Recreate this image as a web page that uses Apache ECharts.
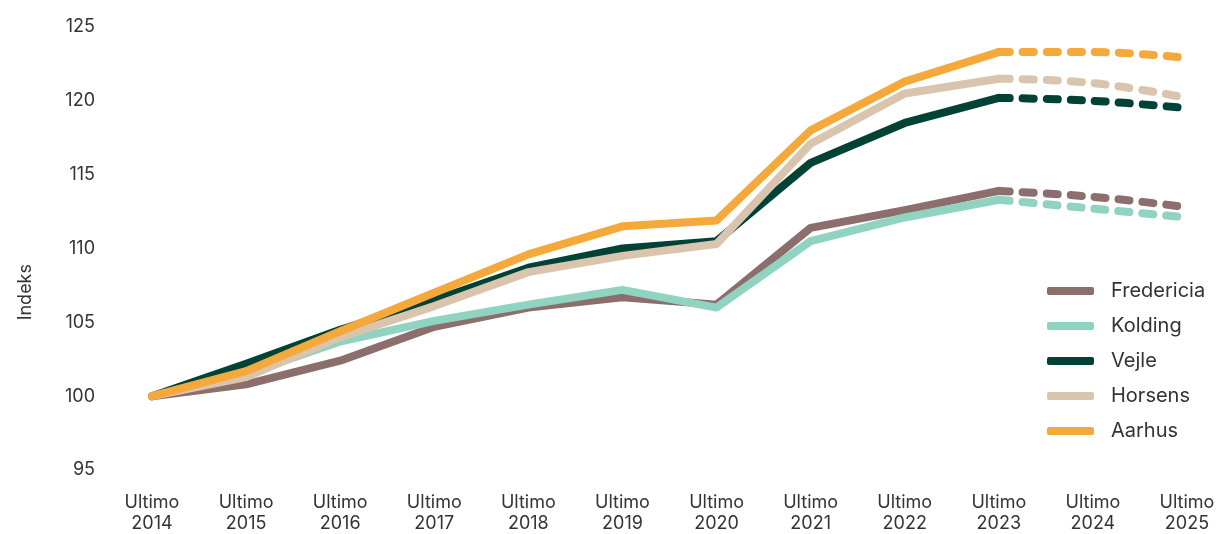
<!DOCTYPE html>
<html><head><meta charset="utf-8">
<script src="https://cdn.jsdelivr.net/npm/echarts@6/dist/echarts.min.js"></script>
<style>html,body{margin:0;padding:0;background:#fff}#c{width:1228px;height:534px}</style>
</head><body><div id="c"></div>
<script>
const categories = ['Ultimo\n2014','Ultimo\n2015','Ultimo\n2016','Ultimo\n2017','Ultimo\n2018','Ultimo\n2019','Ultimo\n2020','Ultimo\n2021','Ultimo\n2022','Ultimo\n2023','Ultimo\n2024','Ultimo\n2025'];
const names = ['Fredericia','Kolding','Vejle','Horsens','Aarhus'];
const colors = ['#8c6e6c','#8fd3c0','#004236','#d9c4ae','#f4a93a'];
const fredericia = [100, 100.8, 102.4, 104.7, 106.0, 106.7, 106.2, 111.4, 112.6, 113.9, 113.5, 112.8];
const kolding    = [100, 101.5, 103.7, 105.1, 106.2, 107.2, 106.0, 110.5, 112.1, 113.3, 112.7, 112.1];
const vejle      = [100, 102.2, 104.5, 106.5, 108.7, 110.0, 110.5, 115.8, 118.5, 120.2, 120.0, 119.5];
const horsens    = [100, 101.3, 104.0, 106.1, 108.4, 109.5, 110.3, 117.1, 120.5, 121.5, 121.2, 120.2];
const aarhus     = [100, 101.7, 104.4, 107.0, 109.6, 111.5, 111.9, 118.0, 121.3, 123.3, 123.3, 122.9];
const allData = [fredericia, kolding, vejle, horsens, aarhus];
const lastActual = 9; // index of Ultimo 2023

const series = [];
names.forEach((n, i) => {
  const d = allData[i];
  series.push({
    name: n, type: 'line', symbol: 'none', z: 2 + i,
    data: d.map((v, k) => k <= lastActual ? v : null),
    lineStyle: { color: colors[i], width: 8, cap: 'round', join: 'round' },
    itemStyle: { color: colors[i] }
  });
  series.push({
    name: n, type: 'line', symbol: 'none', z: 2 + i, smooth: 0.4,
    data: d.map((v, k) => k >= lastActual ? v : null),
    lineStyle: { color: colors[i], width: 8, type: [11, 13], cap: 'round' },
    itemStyle: { color: colors[i] }
  });
});

const chart = echarts.init(document.getElementById('c'));
chart.setOption({
  animation: false,
  textStyle: { fontFamily: 'Inter' },
  grid: { left: 152, right: 41, top: 27, bottom: 62 },
  legend: {
    data: names.map((n, i) => ({ name: n, icon: 'roundRect', itemStyle: { color: colors[i] } })),
    orient: 'vertical', left: 1042, top: 276, itemWidth: 47, itemHeight: 8, itemGap: 15,
    textStyle: { fontSize: 20, color: '#333', fontFamily: 'Inter', padding: [0, 0, 0, 12] },
    selectedMode: false
  },
  xAxis: {
    type: 'category', data: categories, boundaryGap: false,
    axisLine: { show: false }, axisTick: { show: false },
    axisLabel: { fontSize: 18, color: '#333', lineHeight: 21, margin: 22, interval: 0 }
  },
  yAxis: {
    type: 'value', min: 95, max: 125, interval: 5,
    splitLine: { show: false }, axisLine: { show: false }, axisTick: { show: false },
    axisLabel: { fontSize: 18, color: '#333', margin: 57 }
  },
  graphic: [{
    type: 'text', left: 17, top: 264, rotation: Math.PI / 2,
    style: { text: 'Indeks', fontSize: 18, fill: '#333', fontFamily: 'Inter' }
  }],
  series: series
});
</script></body></html>
